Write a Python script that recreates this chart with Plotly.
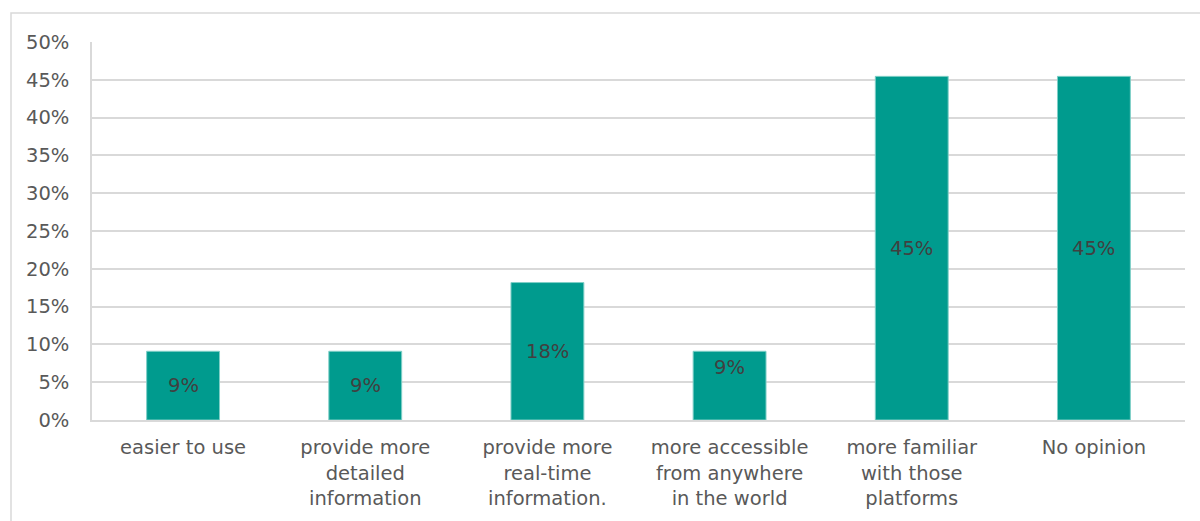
import plotly.graph_objects as go

categories = [
    "easier to use",
    "provide more<br>detailed<br>information",
    "provide more<br>real-time<br>information.",
    "more accessible<br>from anywhere<br>in the world",
    "more familiar<br>with those<br>platforms",
    "No opinion",
]
values = [1/11, 1/11, 2/11, 1/11, 5/11, 5/11]
y_ticks = [0, 0.05, 0.10, 0.15, 0.20, 0.25, 0.30, 0.35, 0.40, 0.45, 0.50]
y_tick_labels = ["0%", "5%", "10%", "15%", "20%", "25%", "30%", "35%", "40%", "45%", "50%"]

FONT = "DejaVu Sans"
FS = 19.5
BAR = "#009B8E"
TXT = "#595959"
GRID = "#D9D9D9"

fig = go.Figure()
fig.add_trace(go.Bar(
    x=categories, y=values,
    marker=dict(color=BAR, line=dict(color="#7FCFC7", width=1)),
    hoverinfo="skip",
))

# data labels (centred in bar; 4th label sits near the top of its bar)
for i, (c, v) in enumerate(zip(categories, values)):
    if i == 3:
        fig.add_annotation(x=c, y=v, yanchor="top", yshift=-3, text=f"{v:.0%}",
                           showarrow=False, font=dict(family=FONT, size=FS, color="#404040"))
    else:
        fig.add_annotation(x=c, y=v / 2, yanchor="middle", text=f"{v:.0%}",
                           showarrow=False, font=dict(family=FONT, size=FS, color="#404040"))

# chart area border
fig.add_shape(type="rect", xref="paper", yref="paper",
              x0=(11 - 92) / 1093, x1=(1215 - 92) / 1093,
              y0=(420 - 560) / 378, y1=(420 - 13) / 378,
              line=dict(color=GRID, width=1.5), fillcolor="rgba(0,0,0,0)", layer="below")

fig.update_layout(
    width=1200, height=521,
    margin=dict(l=92, r=15, t=42, b=101),
    paper_bgcolor="white", plot_bgcolor="white",
    bargap=0.6,
    showlegend=False,
    font=dict(family=FONT, size=FS, color=TXT),
    xaxis=dict(showline=True, linecolor=GRID, linewidth=1.5, showgrid=False,
               ticks="outside", ticklen=0, ticklabelstandoff=9,
               tickfont=dict(family=FONT, size=FS, color=TXT), fixedrange=True),
    yaxis=dict(range=[0, 0.5], tickvals=y_ticks, ticktext=y_tick_labels,
               showgrid=True, gridcolor=GRID, gridwidth=1.5,
               showline=True, linecolor=GRID, linewidth=1.5, zeroline=False,
               ticks="outside", ticklen=0, ticklabelstandoff=17,
               tickfont=dict(family=FONT, size=FS, color=TXT), fixedrange=True),
)

fig.write_html("out.html", config={"displayModeBar": False})
